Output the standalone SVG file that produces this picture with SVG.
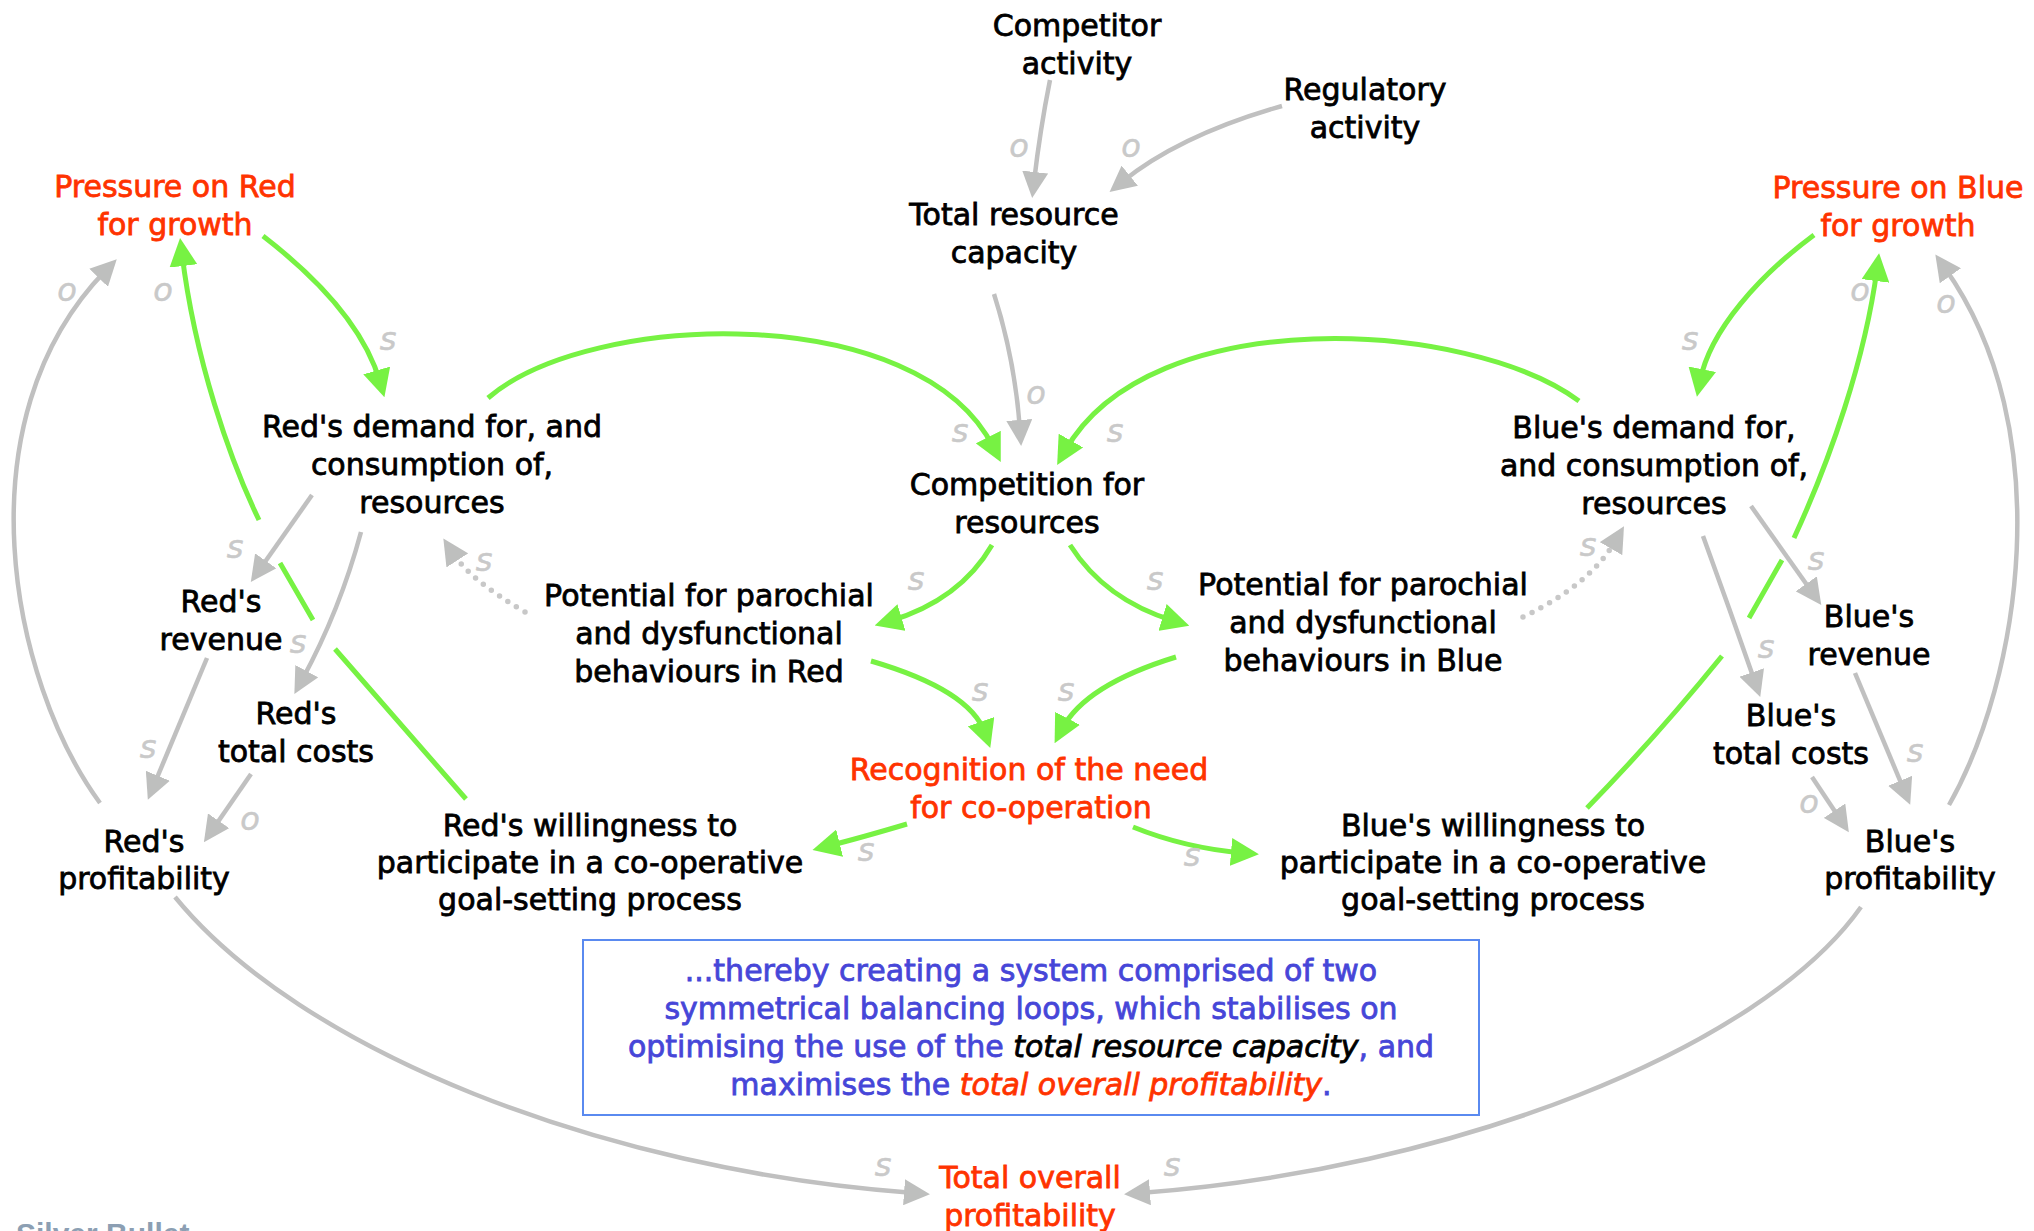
<svg xmlns="http://www.w3.org/2000/svg" width="2034" height="1231" viewBox="0 0 2034 1231">
  <style>
    .t { font-family: "DejaVu Sans", "Liberation Sans", sans-serif; font-size: 30px; text-anchor: middle; fill: #000; stroke: #000; stroke-width: 0.8px; }
    .red { fill: #ff3300; stroke: #ff3300; }
    .blue { fill: #4646d8; stroke: #4646d8; }
    .it { font-style: italic; }
    .pol { font-family: "DejaVu Sans", sans-serif; font-style: italic; font-size: 32px; fill: #c9c9c9; stroke: #c9c9c9; stroke-width: 0.5px; text-anchor: middle; }
    .g { stroke: #77f243; stroke-width: 5; fill: none; }
    .k { stroke: #c0c0c0; stroke-width: 4.5; fill: none; }
    .dot { stroke: #c8c8c8; stroke-width: 5.5; stroke-dasharray: 0 10; stroke-linecap: round; fill: none; }
    .brand { font-family: "Liberation Sans", Arial, sans-serif; font-weight: bold; font-size: 30px; fill: #8c9fb3; }
  </style>
  <defs>
    <marker id="ag" viewBox="0 0 28 28" markerWidth="28" markerHeight="28" refX="12" refY="14" orient="auto" markerUnits="userSpaceOnUse">
      <path d="M0,0 L28,14 L0,28 z" fill="#77f243"/>
    </marker>
    <marker id="ak" viewBox="0 0 26 26" markerWidth="26" markerHeight="26" refX="10" refY="13" orient="auto" markerUnits="userSpaceOnUse">
      <path d="M0,0 L26,13 L0,26 z" fill="#bebfbe"/>
    </marker>
  </defs>
  <rect width="2034" height="1231" fill="#fff"/>

  <g id="connectors">
    <!-- reinforcing / balancing links (green) -->
    <path class="g" marker-end="url(#ag)" d="M263,236 C320,280 365,330 380,382"/>
    <path class="g" marker-end="url(#ag)" d="M466,799 L335,649 M313,620 L280,563 M259,520 C230,460 195,360 182,254"/>
    <path class="g" marker-end="url(#ag)" d="M488,398 C590,310 920,300 993.6,447.8"/>
    <path class="g" marker-end="url(#ag)" d="M1579,401 C1470,320 1150,300 1065,451"/>
    <path class="g" marker-end="url(#ag)" d="M992,545 Q960,600 890,621"/>
    <path class="g" marker-end="url(#ag)" d="M1070,545 Q1105,600 1174,621"/>
    <path class="g" marker-end="url(#ag)" d="M871,661 Q970,690 985,733"/>
    <path class="g" marker-end="url(#ag)" d="M1176,657 Q1085,685 1062,729"/>
    <path class="g" marker-end="url(#ag)" d="M907,824 Q860,838 828,846"/>
    <path class="g" marker-end="url(#ag)" d="M1133,827 Q1185,848 1243,853"/>
    <path class="g" marker-end="url(#ag)" d="M1814,235 C1760,275 1710,330 1700,381"/>
    <path class="g" marker-end="url(#ag)" d="M1587,808 Q1658,735 1722,656 M1749,618 L1782,560 M1794,538 C1830,460 1865,360 1877,269"/>

    <!-- grey links -->
    <path class="k" marker-end="url(#ak)" d="M1050,80 Q1040,130 1034,182"/>
    <path class="k" marker-end="url(#ak)" d="M1282,106 Q1180,135 1122,182"/>
    <path class="k" marker-end="url(#ak)" d="M994,294 Q1015,360 1020,430"/>
    <path class="k" marker-end="url(#ak)" d="M312,495 L260,569"/>
    <path class="k" marker-end="url(#ak)" d="M361,532 Q340,610 302,680"/>
    <path class="k" marker-end="url(#ak)" d="M207,658 L154,785"/>
    <path class="k" marker-end="url(#ak)" d="M251,774 L213,829"/>
    <path class="k" marker-end="url(#ak)" d="M100,803 C10,680 -40,420 105.6,270.6"/>
    <path class="k" marker-end="url(#ak)" d="M175,897 C300,1050 600,1170 914,1193"/>
    <path class="k" marker-end="url(#ak)" d="M1861,907 C1760,1050 1450,1170 1140,1193"/>
    <path class="k" marker-end="url(#ak)" d="M1949,805 C2020,680 2060,430 1944.6,267.6"/>
    <path class="k" marker-end="url(#ak)" d="M1751,506 L1812,592"/>
    <path class="k" marker-end="url(#ak)" d="M1703,536 Q1730,610 1755,682"/>
    <path class="k" marker-end="url(#ak)" d="M1855,673 L1904,790"/>
    <path class="k" marker-end="url(#ak)" d="M1812,777 L1840,819"/>

    <!-- dotted links -->
    <path class="dot" marker-end="url(#ak)" d="M525,612 Q470,580 452,552"/>
    <path class="dot" marker-end="url(#ak)" d="M1523,617 Q1590,585 1616,540"/>

    <!-- polarity labels -->
    <g id="polarity">
      <text class="pol" x="1019" y="157">o</text>
      <text class="pol" x="1131" y="157">o</text>
      <text class="pol" x="1036" y="404">o</text>
      <text class="pol" x="960" y="442">s</text>
      <text class="pol" x="1115" y="442">s</text>
      <text class="pol" x="388" y="350">s</text>
      <text class="pol" x="67" y="301">o</text>
      <text class="pol" x="163" y="301">o</text>
      <text class="pol" x="235" y="558">s</text>
      <text class="pol" x="484" y="571">s</text>
      <text class="pol" x="298" y="653">s</text>
      <text class="pol" x="148" y="758">s</text>
      <text class="pol" x="250" y="830">o</text>
      <text class="pol" x="916" y="590">s</text>
      <text class="pol" x="1155" y="590">s</text>
      <text class="pol" x="980" y="701">s</text>
      <text class="pol" x="1066" y="701">s</text>
      <text class="pol" x="866" y="861">s</text>
      <text class="pol" x="1192" y="866">s</text>
      <text class="pol" x="1690" y="350">s</text>
      <text class="pol" x="1860" y="301">o</text>
      <text class="pol" x="1946" y="313">o</text>
      <text class="pol" x="1588" y="556">s</text>
      <text class="pol" x="1816" y="570">s</text>
      <text class="pol" x="1766" y="658">s</text>
      <text class="pol" x="1915" y="762">s</text>
      <text class="pol" x="1809" y="813">o</text>
      <text class="pol" x="883" y="1176">s</text>
      <text class="pol" x="1172" y="1176">s</text>
    </g>
  </g>

  <g id="n-competitor"><text class="t" x="1077" y="36">Competitor</text><text class="t" x="1077" y="74">activity</text></g>
  <g id="n-regulatory"><text class="t" x="1365" y="100">Regulatory</text><text class="t" x="1365" y="138">activity</text></g>
  <g id="n-capacity"><text class="t" x="1014" y="225">Total resource</text><text class="t" x="1014" y="263">capacity</text></g>
  <g id="n-pressure-red"><text class="t red" x="175" y="197">Pressure on Red</text><text class="t red" x="175" y="235">for growth</text></g>
  <g id="n-pressure-blue"><text class="t red" x="1898" y="198">Pressure on Blue</text><text class="t red" x="1898" y="236">for growth</text></g>
  <g id="n-red-demand"><text class="t" x="432" y="437">Red's demand for, and</text><text class="t" x="432" y="475">consumption of,</text><text class="t" x="432" y="513">resources</text></g>
  <g id="n-competition"><text class="t" x="1027" y="495">Competition for</text><text class="t" x="1027" y="533">resources</text></g>
  <g id="n-blue-demand"><text class="t" x="1654" y="438">Blue's demand for,</text><text class="t" x="1654" y="476">and consumption of,</text><text class="t" x="1654" y="514">resources</text></g>
  <g id="n-red-revenue"><text class="t" x="221" y="612">Red's</text><text class="t" x="221" y="650">revenue</text></g>
  <g id="n-red-parochial"><text class="t" x="709" y="606">Potential for parochial</text><text class="t" x="709" y="644">and dysfunctional</text><text class="t" x="709" y="682">behaviours in Red</text></g>
  <g id="n-blue-parochial"><text class="t" x="1363" y="595">Potential for parochial</text><text class="t" x="1363" y="633">and dysfunctional</text><text class="t" x="1363" y="671">behaviours in Blue</text></g>
  <g id="n-blue-revenue"><text class="t" x="1869" y="627">Blue's</text><text class="t" x="1869" y="665">revenue</text></g>
  <g id="n-red-costs"><text class="t" x="296" y="724">Red's</text><text class="t" x="296" y="762">total costs</text></g>
  <g id="n-blue-costs"><text class="t" x="1791" y="726">Blue's</text><text class="t" x="1791" y="764">total costs</text></g>
  <g id="n-recognition"><text class="t red" x="1029" y="780">Recognition of the need</text><text class="t red" x="1031" y="818">for co-operation</text></g>
  <g id="n-red-profit"><text class="t" x="144" y="852">Red's</text><text class="t" x="144" y="889">profitability</text></g>
  <g id="n-red-willing"><text class="t" x="590" y="836">Red's willingness to</text><text class="t" x="590" y="873">participate in a co-operative</text><text class="t" x="590" y="910">goal-setting process</text></g>
  <g id="n-blue-willing"><text class="t" x="1493" y="836">Blue's willingness to</text><text class="t" x="1493" y="873">participate in a co-operative</text><text class="t" x="1493" y="910">goal-setting process</text></g>
  <g id="n-blue-profit"><text class="t" x="1910" y="852">Blue's</text><text class="t" x="1910" y="889">profitability</text></g>

  <g id="n-summary">
    <rect x="583" y="940" width="896" height="175" fill="none" stroke="#5a8af0" stroke-width="2"/>
    <text class="t blue" x="1031" y="981">...thereby creating a system comprised of two</text>
    <text class="t blue" x="1031" y="1019">symmetrical balancing loops, which stabilises on</text>
    <text class="t blue" x="1031" y="1057">optimising the use of the <tspan class="it" fill="#000" stroke="#000">total resource capacity</tspan>, and</text>
    <text class="t blue" x="1031" y="1095">maximises the <tspan class="it" fill="#ff3300" stroke="#ff3300">total overall profitability</tspan>.</text>
  </g>

  <g id="n-total-profit"><text class="t red" x="1030" y="1188">Total overall</text><text class="t red" x="1030" y="1226">profitability</text></g>

  <text class="brand" x="16" y="1244">Silver Bullet</text>
</svg>
